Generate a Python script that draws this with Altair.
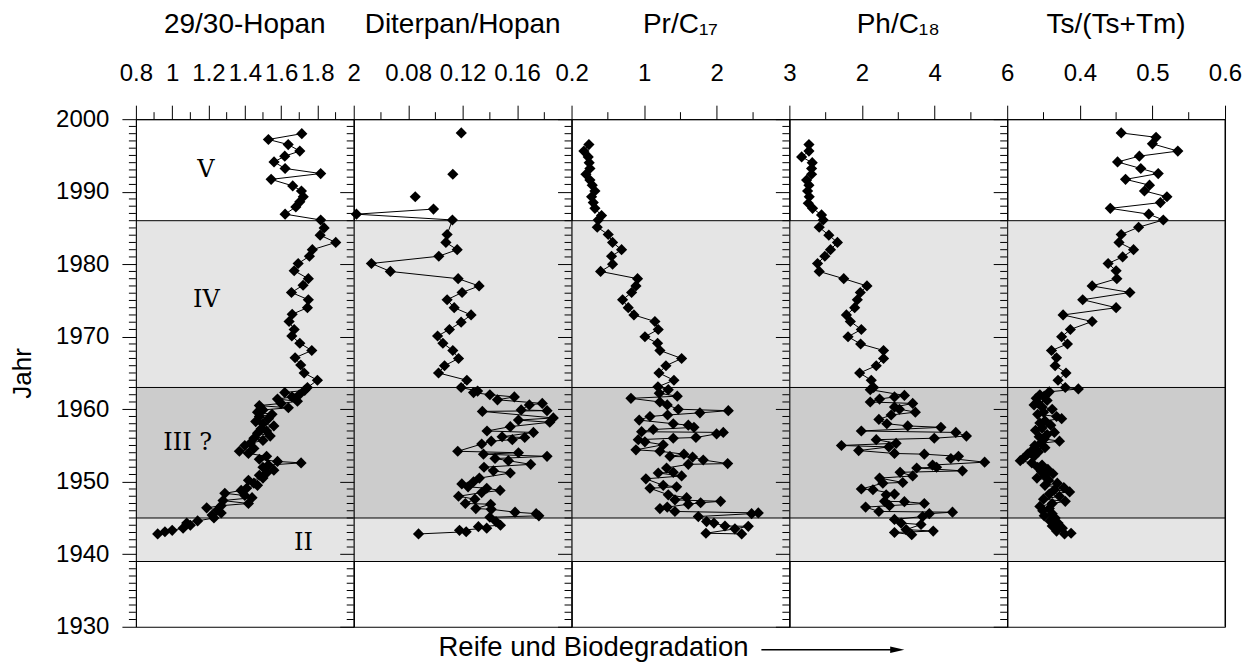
import altair as alt
import pandas as pd

# ---------------- data ----------------
hop_years = [1998.0, 1997.2, 1996.5, 1995.6, 1994.9, 1994.1, 1993.2, 1992.5, 1991.7, 1990.8,
             1990.1, 1989.3, 1988.6, 1987.9, 1986.9, 1986.1, 1985.0, 1984.0, 1983.0, 1982.0,
             1981.1, 1980.1, 1979.1, 1978.0, 1977.1, 1976.1, 1975.1, 1974.0, 1973.1, 1972.1,
             1971.0, 1970.1, 1969.1, 1968.1, 1967.1, 1966.1, 1965.0, 1964.0, 1963.0,
             1962.6, 1962.3, 1962.0, 1961.7, 1961.4, 1961.1, 1960.8, 1960.5, 1960.2, 1959.9,
             1959.6, 1959.3, 1959.0, 1958.7, 1958.3, 1958.0, 1957.7, 1957.3, 1957.0, 1956.7,
             1956.3, 1956.0, 1955.7, 1955.3, 1955.0, 1954.6, 1954.2, 1953.9, 1953.5, 1953.1,
             1952.8, 1952.6, 1952.3, 1952.0, 1951.6, 1951.2, 1950.9, 1950.5, 1950.2, 1949.8,
             1949.5, 1949.1, 1948.8, 1948.4, 1948.1, 1947.8, 1947.4, 1947.0, 1946.7, 1946.4,
             1946.1, 1945.7, 1945.4, 1945.0, 1944.6, 1944.3, 1944.0, 1943.6, 1943.3, 1943.1, 1942.8]
hop_vals = [1.714, 1.530, 1.639, 1.703, 1.620, 1.561, 1.622, 1.818, 1.545, 1.664,
            1.712, 1.722, 1.703, 1.681, 1.622, 1.818, 1.837, 1.815, 1.901, 1.772,
            1.756, 1.694, 1.672, 1.750, 1.721, 1.657, 1.750, 1.745, 1.661, 1.644,
            1.672, 1.659, 1.703, 1.769, 1.677, 1.708, 1.727, 1.800, 1.745,
            1.73, 1.62, 1.70, 1.66, 1.58, 1.69, 1.60, 1.48, 1.64, 1.50,
            1.47, 1.55, 1.48, 1.53, 1.46, 1.50, 1.56, 1.49, 1.52, 1.47,
            1.54, 1.45, 1.50, 1.43, 1.40, 1.45, 1.37, 1.42, 1.52, 1.48,
            1.58, 1.71, 1.53, 1.50, 1.56, 1.52, 1.48, 1.50, 1.42, 1.45,
            1.47, 1.41, 1.38, 1.29, 1.40, 1.44, 1.28, 1.42, 1.27, 1.19,
            1.25, 1.27, 1.22, 1.23, 1.14, 1.08, 1.10, 1.06, 1.00, 0.96, 0.92]

dit_years = [1998.1, 1992.4, 1989.3, 1987.6, 1986.9, 1986.1, 1984.1, 1983.0, 1982.0, 1981.1,
             1980.1, 1979.0, 1978.0, 1977.0, 1976.1, 1975.1, 1974.0, 1973.0, 1972.0, 1971.0,
             1970.1, 1969.1, 1968.1, 1967.0, 1966.0, 1965.0, 1964.0, 1963.0,
             1962.5, 1962.3, 1962.0, 1961.7, 1961.3, 1960.8, 1960.6, 1959.9, 1959.8, 1959.7,
             1958.8, 1958.5, 1958.2, 1957.6, 1957.0, 1956.8, 1956.2, 1956.1, 1955.8, 1955.6,
             1955.2, 1954.2, 1954.0, 1953.8, 1953.5, 1953.2, 1952.9, 1952.4, 1952.0, 1951.5,
             1951.2, 1950.5, 1950.0, 1949.7, 1949.3, 1949.1, 1948.8, 1948.5, 1948.0, 1947.6,
             1947.0, 1946.9, 1946.3, 1946.2, 1945.8, 1945.6, 1945.3, 1945.1, 1944.5, 1944.0,
             1943.8, 1943.6, 1943.3, 1943.1, 1942.8]
dit_vals = [0.119, 0.1128, 0.0852, 0.0986, 0.042, 0.1125, 0.1086, 0.1077, 0.116, 0.1025,
            0.053, 0.0669, 0.1167, 0.1321, 0.1196, 0.1086, 0.1138, 0.1262, 0.1189, 0.1103,
            0.1016, 0.1055, 0.1128, 0.117, 0.1067, 0.1023, 0.1231, 0.1189,
            0.131, 0.128, 0.140, 0.158, 0.1456, 0.1785, 0.169, 0.163, 0.182, 0.1345,
            0.1866, 0.161, 0.184, 0.155, 0.1379, 0.172, 0.149, 0.1656, 0.1565, 0.141,
            0.134, 0.1164, 0.161, 0.1353, 0.182, 0.1438, 0.1536, 0.170, 0.1357, 0.1426,
            0.155, 0.1323, 0.128, 0.1194, 0.124, 0.1377, 0.1475, 0.134, 0.117, 0.129,
            0.122, 0.1406, 0.1297, 0.141, 0.1585, 0.174, 0.176, 0.140, 0.1445, 0.1478,
            0.1316, 0.1377, 0.1177, 0.1226, 0.0876]
# sample groups: the first three samples stand alone (no connecting line)
dit_seg = [0, 1, 2] + [3] * (len(dit_years) - 3)

pr_years = [1996.5, 1995.6, 1994.8, 1994.0, 1993.2, 1992.4, 1991.6, 1990.9, 1990.1, 1989.3,
            1988.5, 1987.7, 1986.7, 1986.1, 1985.1, 1984.1, 1983.0, 1982.0, 1981.1, 1980.0,
            1979.0, 1978.0, 1977.0, 1976.1, 1975.1, 1974.0, 1973.0, 1972.1, 1971.0, 1970.0,
            1969.1, 1968.1, 1967.0, 1966.0, 1965.0, 1964.0, 1963.1,
            1962.7, 1962.2, 1961.8, 1961.5, 1961.0, 1960.6, 1960.0, 1959.8, 1959.5, 1959.2,
            1959.0, 1958.5, 1958.0, 1957.8, 1957.5, 1957.2, 1956.9, 1956.8, 1956.6, 1956.1,
            1956.0, 1955.8, 1955.5, 1955.1, 1954.4, 1954.2, 1953.8, 1953.5, 1953.4, 1953.0,
            1952.5, 1952.4, 1951.9, 1951.3, 1951.2, 1950.8, 1950.4, 1949.5, 1949.3, 1949.1,
            1948.2, 1947.8, 1947.5, 1947.3, 1947.1, 1946.9, 1946.5, 1946.3, 1945.9, 1945.7,
            1945.6, 1945.2, 1944.5, 1944.3, 1943.9, 1943.85, 1943.5, 1942.9, 1942.8]
pr_vals = [0.239, 0.170, 0.230, 0.243, 0.253, 0.198, 0.253, 0.285, 0.322, 0.276,
           0.299, 0.322, 0.413, 0.367, 0.354, 0.505, 0.565, 0.689, 0.551, 0.565,
           0.400, 0.909, 0.887, 0.827, 0.703, 0.781, 0.859, 1.148, 1.194, 1.011,
           1.185, 1.217, 1.516, 1.300, 1.204, 1.410, 1.190,
           1.332, 1.208, 1.456, 0.818, 1.217, 1.318, 1.47, 2.159, 1.768, 1.323,
           1.08, 0.932, 1.401, 1.608, 1.686, 1.125, 0.965, 2.09, 1.998, 1.713,
           1.401, 0.919, 1.01, 1.263, 0.887, 1.217, 1.548, 1.355, 1.667, 1.814,
           2.15, 1.608, 1.309, 1.401, 1.194, 1.516, 1.024, 1.263, 1.447, 1.08,
           1.332, 1.585, 1.424, 2.053, 1.778, 1.608, 1.318, 1.217, 1.424, 2.572,
           2.48, 1.746, 1.86, 1.961, 2.113, 2.434, 2.25, 1.851, 2.343]

ph_years = [1996.5, 1995.6, 1994.8, 1994.0, 1993.2, 1992.4, 1991.6, 1990.9, 1990.1, 1989.3,
            1988.4, 1987.7, 1986.8, 1986.1, 1985.1, 1984.0, 1983.0, 1982.0, 1981.1, 1980.1,
            1979.0, 1978.0, 1977.0, 1976.1, 1975.1, 1974.0, 1973.0, 1972.1, 1971.0, 1970.0,
            1969.0, 1968.1, 1967.0, 1966.0, 1965.0, 1964.0, 1963.0,
            1962.7, 1961.9, 1961.7, 1961.4, 1961.0, 1960.8, 1960.3, 1960.0, 1959.6, 1959.2,
            1958.6, 1958.0, 1957.7, 1957.5, 1957.0, 1956.8, 1956.3, 1956.0, 1955.8, 1955.3,
            1955.0, 1954.8, 1954.3, 1953.9, 1953.8, 1953.5, 1953.2, 1952.7, 1952.3, 1952.0,
            1951.9, 1951.5, 1951.3, 1950.8, 1950.5, 1949.9, 1949.8, 1949.0, 1948.9, 1948.3,
            1948.2, 1947.3, 1947.25, 1947.0, 1946.7, 1946.5, 1945.9, 1945.8, 1945.6, 1945.2,
            1944.8, 1944.3, 1944.1, 1943.4, 1943.2, 1943.0, 1942.7]
ph_vals = [0.539, 0.539, 0.338, 0.630, 0.612, 0.612, 0.475, 0.539, 0.502, 0.548,
           0.521, 0.639, 0.886, 0.932, 0.822, 1.087, 1.324, 1.132, 0.977, 0.776,
           0.822, 1.498, 2.137, 1.954, 1.872, 1.799, 1.571, 1.680, 1.982, 1.616,
           1.963, 2.594, 2.594, 2.393, 1.936, 2.256, 2.32,
           2.228, 3.169, 2.895, 2.484, 2.228, 3.397, 2.895, 3.032, 3.47, 2.804,
           2.466, 2.685, 3.26, 4.174, 1.982, 4.584, 4.877, 3.991, 2.393, 2.941,
           1.434, 2.74, 1.909, 2.895, 3.717, 4.658, 4.448, 5.379, 3.945, 4.055,
           3.507, 4.767, 3.05, 3.397, 2.484, 3.123, 2.575, 1.982, 2.302, 2.895,
           2.667, 2.621, 3.169, 3.717, 2.758, 2.1, 2.466, 4.493, 3.854, 3.671,
           2.895, 3.078, 3.626, 3.215, 3.963, 2.895, 3.37]

ts_years = [1998.1, 1997.5, 1996.6, 1995.6, 1994.9, 1994.1, 1993.2, 1992.5, 1991.7, 1990.9,
            1990.1, 1989.3, 1988.5, 1987.7, 1986.9, 1986.1, 1985.1, 1984.1, 1983.0, 1982.0,
            1981.0, 1980.1, 1979.1, 1978.0, 1977.0, 1976.1, 1975.1, 1974.0, 1973.0, 1972.1,
            1971.0, 1970.0, 1969.0, 1968.1, 1967.1, 1966.0, 1965.0, 1964.0, 1963.0, 1962.8,
            1962.4, 1962.0, 1961.8, 1961.5, 1961.2, 1960.9, 1960.6, 1960.3, 1960.0, 1959.6,
            1959.3, 1959.0, 1958.7, 1958.4, 1958.1, 1957.8, 1957.4, 1957.1, 1956.8, 1956.5,
            1956.2, 1955.9, 1955.6, 1955.3, 1955.0, 1954.7, 1954.4, 1954.1, 1953.8, 1953.5,
            1953.2, 1952.9, 1952.6, 1952.3, 1952.0, 1951.7, 1951.4, 1951.1, 1950.8, 1950.5,
            1950.2, 1949.8, 1949.5, 1949.2, 1948.9, 1948.6, 1948.3, 1948.0, 1947.6, 1947.3,
            1947.0, 1946.6, 1946.3, 1946.0, 1945.6, 1945.3, 1945.0, 1944.6, 1944.3, 1943.9,
            1943.6, 1943.2, 1942.9, 1942.8]
ts_vals = [0.457, 0.505, 0.500, 0.535, 0.482, 0.452, 0.484, 0.508, 0.463, 0.496,
           0.489, 0.520, 0.511, 0.442, 0.495, 0.515, 0.481, 0.457, 0.454, 0.474,
           0.459, 0.439, 0.450, 0.451, 0.417, 0.469, 0.404, 0.450, 0.377, 0.417,
           0.387, 0.375, 0.383, 0.361, 0.368, 0.366, 0.381, 0.370, 0.380, 0.398,
           0.358, 0.345, 0.351, 0.340, 0.355, 0.342, 0.337, 0.348, 0.362, 0.350,
           0.342, 0.368, 0.375, 0.352, 0.345, 0.360, 0.348, 0.339, 0.365, 0.355,
           0.344, 0.351, 0.372, 0.346, 0.338, 0.352, 0.335, 0.343, 0.328, 0.337,
           0.322, 0.318, 0.334, 0.348, 0.342, 0.356, 0.347, 0.363, 0.352, 0.341,
           0.357, 0.369, 0.352, 0.378, 0.365, 0.386, 0.358, 0.372, 0.350, 0.380,
           0.362, 0.345, 0.358, 0.349, 0.362, 0.351, 0.366, 0.359, 0.370, 0.362,
           0.376, 0.368, 0.388, 0.379]

panel_titles = ["29/30-Hopan", "Diterpan/Hopan", "Pr/C\u2081\u2087", "Ph/C\u2081\u2088", "Ts/(Ts+Tm)"]
panel_domains = [[0.8, 2.0], [0.04, 0.2], [0.0, 3.0], [0.0, 6.0], [0.3, 0.6]]
panel_major = [[0.8, 1.0, 1.2, 1.4, 1.6, 1.8, 2.0], [0.08, 0.12, 0.16, 0.2],
               [1, 2, 3], [2, 4, 6], [0.4, 0.5, 0.6]]
panel_minor = [[0.9, 1.1, 1.3, 1.5, 1.7, 1.9], [0.06, 0.1, 0.14, 0.18],
               [0.5, 1.5, 2.5], [1, 3, 5], [0.35, 0.45, 0.55]]

band_start = [1939, 1945, 1963]
band_end = [1945, 1963, 1986]
band_kind = ["hell", "dunkel", "hell"]
zone_lines = [1939, 1945, 1963, 1986]
zone_labels = ["V", "IV", "III ?", "II"]
zone_label_x = [1.185, 1.189, 1.085, 1.723]
zone_label_year = [1993.0, 1975.1, 1955.3, 1941.5]

year_major = list(range(1930, 2001, 10))
year_minor = [y for y in range(1931, 2000) if y % 10]

bottom_text = "Reife und Biodegradation"

# ---------------- chart ----------------
SANS = "Liberation Sans"
W, H = 218, 508


def make_panel(idx, title, years, vals, segs, domain, majors, minors):
    first = idx == 0
    xaxis = alt.Axis(orient="top", values=majors, tickSize=14, format="~g",
                     labelFontSize=24, labelFont=SANS, labelColor="black", labelPadding=20,
                     labelFlush=False, labelOverlap=False, domainColor="black",
                     ticks=True, tickColor="black", tickWidth=1, tickOpacity=1,
                     grid=False, zindex=1)
    yaxis = alt.Axis(orient="left", values=year_major, tickSize=14, labels=first, format="d",
                     labelFontSize=24, labelFont=SANS, labelColor="black", labelPadding=13,
                     labelFlush=False, labelOverlap=False, domainColor="black",
                     ticks=True, tickColor="black", tickWidth=1, tickOpacity=1,
                     grid=False, zindex=1,
                     titleFontSize=26, titleFont=SANS, titleFontWeight="normal",
                     titleColor="black", titlePadding=20)

    def X(field):
        return alt.X(f"{field}:Q", scale=alt.Scale(domain=domain, nice=False, zero=False),
                     axis=xaxis, title=None)

    def Y(field):
        return alt.Y(f"{field}:Q", scale=alt.Scale(domain=[1930, 2000], nice=False, zero=False),
                     axis=yaxis, title="Jahr" if first else None)

    df = pd.DataFrame({"yr": years, "v": vals, "seg": segs, "i": list(range(len(years)))})
    bands_df = pd.DataFrame({"y1": band_start, "y2": band_end, "kind": band_kind})
    zl_df = pd.DataFrame({"yr": zone_lines})
    xminor_df = pd.DataFrame({"v": minors})
    yminor_df = pd.DataFrame({"yr": year_minor})
    one = pd.DataFrame({"a": [0]})

    layers = [
        alt.Chart(bands_df).mark_rect(strokeWidth=0).encode(
            y=Y("y1"), y2="y2:Q", x=alt.value(0), x2=alt.value(W),
            color=alt.Color("kind:N", scale=alt.Scale(domain=["hell", "dunkel"],
                                                      range=["#e5e5e5", "#cccccc"]), legend=None)),
        alt.Chart(zl_df).mark_rule(color="black", strokeWidth=1).encode(y=Y("yr")),
    ]
    if first:
        ann = pd.DataFrame({"t": zone_labels, "v": zone_label_x, "yr": zone_label_year})
        layers.append(alt.Chart(ann).mark_text(font="DejaVu Serif", fontSize=24, color="black",
                                               baseline="middle", align="center").encode(
            x=X("v"), y=Y("yr"), text="t:N"))
    layers += [
        alt.Chart(df).mark_line(color="black", strokeWidth=1).encode(
            x=X("v"), y=Y("yr"), detail="seg:N", order="i:Q"),
        alt.Chart(df).mark_point(shape="diamond", filled=True, size=125, color="black",
                                 opacity=1).encode(x=X("v"), y=Y("yr")),
        alt.Chart(xminor_df).mark_rule(color="black", strokeWidth=1, opacity=1).encode(
            x=X("v"), y=alt.value(-7), y2=alt.value(0)),
        alt.Chart(yminor_df).mark_rule(color="black", strokeWidth=1, opacity=1).encode(
            y=Y("yr"), x=alt.value(-7), x2=alt.value(0)),
    ]
    if idx == 2:
        bt = pd.DataFrame({"t": [bottom_text]})
        layers.append(alt.Chart(bt).mark_text(font=SANS, fontSize=27.5, color="black",
                                              baseline="alphabetic", align="center").encode(
            text="t:N", x=alt.value(22), y=alt.value(537)))
        layers.append(alt.Chart(one).mark_rule(color="black", strokeWidth=1.5).encode(
            x=alt.value(190), x2=alt.value(327), y=alt.value(531)))
        layers.append(alt.Chart(one).mark_point(shape="M -1 -0.45 L 1 0 L -1 0.45 Z",
                                                filled=True, size=200, color="black",
                                                opacity=1).encode(
            x=alt.value(326), y=alt.value(531)))
    if idx == 4:
        layers.append(alt.Chart(one).mark_rule(color="black", strokeWidth=1).encode(
            x=alt.value(W), y=alt.value(0), y2=alt.value(H)))

    return alt.layer(*layers).properties(
        width=W, height=H,
        title=alt.TitleParams(text=title, fontSize=28, font=SANS, fontWeight="normal",
                              color="black", offset=0, baseline="alphabetic", anchor="middle"))


series = [
    (hop_years, hop_vals, [0] * len(hop_years)),
    (dit_years, dit_vals, dit_seg),
    (pr_years, pr_vals, [0] * len(pr_years)),
    (ph_years, ph_vals, [0] * len(ph_years)),
    (ts_years, ts_vals, [0] * len(ts_years)),
]

panels = [make_panel(i, panel_titles[i], s[0], s[1], s[2], panel_domains[i],
                     panel_major[i], panel_minor[i]) for i, s in enumerate(series)]

chart = alt.hconcat(*panels, spacing=0).properties(
    bounds="flush",
    padding={"left": 1, "top": 2, "right": 5, "bottom": 0},
).configure_view(stroke="black", strokeWidth=1).configure_axis(
    domainWidth=1, tickWidth=1)

chart.save("out.html", embed_options={"renderer": "svg", "actions": False})
